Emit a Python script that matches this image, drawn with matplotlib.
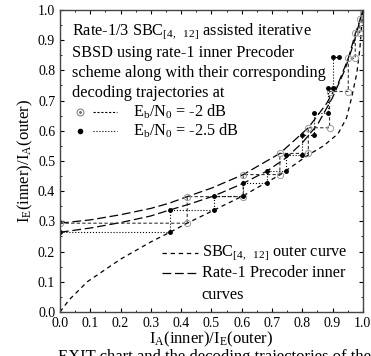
import matplotlib.pyplot as plt
import numpy as np

plt.rcParams['font.family'] = ['Liberation Serif', 'DejaVu Serif']
plt.rcParams['mathtext.fontset'] = 'custom'
plt.rcParams['mathtext.rm'] = 'Liberation Serif'
plt.rcParams['mathtext.it'] = 'Liberation Serif'

# curva externa SBC[4,12] (eixos trocados)
outer_x = [0, 0.03, 0.09, 0.2, 0.3, 0.363, 0.42, 0.51, 0.605, 0.726, 0.82, 0.87, 0.918, 0.946, 0.963, 0.98, 0.99, 1.0]
outer_y = [0, 0.04, 0.10, 0.175, 0.232, 0.264, 0.294, 0.338, 0.385, 0.454, 0.52, 0.55, 0.59, 0.642, 0.71, 0.79, 0.87, 1.0]

# curvas internas do precoder rate-1
inner2_x = [0, 0.1, 0.2, 0.3, 0.36, 0.42, 0.5, 0.605, 0.726, 0.82, 0.88, 0.92, 0.952, 0.975, 0.99, 1.0]
inner2_y = [0.294, 0.305, 0.322, 0.343, 0.36, 0.382, 0.41, 0.455, 0.525, 0.61, 0.69, 0.76, 0.84, 0.92, 0.965, 1.0]
inner25_x = [0, 0.1, 0.2, 0.3, 0.363, 0.43, 0.51, 0.605, 0.684, 0.746, 0.8, 0.85, 0.9, 0.94, 0.97, 1.0]
inner25_y = [0.264, 0.278, 0.296, 0.318, 0.338, 0.358, 0.385, 0.426, 0.467, 0.51, 0.56, 0.62, 0.71, 0.8, 0.89, 1.0]

# trajetorias de decodificacao
traj2_x = [0, 0.42, 0.42, 0.605, 0.605, 0.726, 0.726, 0.82, 0.82, 0.89, 0.89, 0.952, 0.952, 0.975, 0.975, 0.99, 0.99, 1.0]
traj2_y = [0.294, 0.294, 0.382, 0.382, 0.455, 0.455, 0.525, 0.525, 0.61, 0.61, 0.73, 0.73, 0.84, 0.84, 0.925, 0.925, 0.97, 0.99]
traj25_x = [0, 0.363, 0.363, 0.51, 0.51, 0.605, 0.605, 0.684, 0.684, 0.746, 0.746, 0.80, 0.80, 0.84, 0.84, 0.885, 0.885, 0.9, 0.9, 0.92]
traj25_y = [0.264, 0.264, 0.338, 0.338, 0.385, 0.385, 0.426, 0.426, 0.467, 0.467, 0.52, 0.52, 0.585, 0.585, 0.66, 0.66, 0.74, 0.74, 0.845, 0.845]

ticks = [0.0, 0.1, 0.2, 0.3, 0.4, 0.5, 0.6, 0.7, 0.8, 0.9, 1.0]

fig = plt.figure(figsize=(3.71, 3.56), dpi=100)
ax = fig.add_axes([0.1617, 0.1236, 0.8163, 0.8484])

ax.plot(outer_x, outer_y, color='black', lw=0.9, dashes=(3.5, 3))
ax.plot(inner2_x, inner2_y, color='black', lw=0.9, dashes=(7, 3))
ax.plot(inner25_x, inner25_y, color='black', lw=0.9, dashes=(7, 3))

ax.plot(traj2_x, traj2_y, color='#333333', lw=0.8, dashes=(3, 2))
ax.plot(traj2_x, traj2_y, linestyle='none', marker='o', ms=4.5, mfc='none', mec='#999999', mew=0.7)
ax.plot(traj25_x, traj25_y, color='black', lw=0.8, linestyle=':')
ax.plot(traj25_x, traj25_y, linestyle='none', marker='o', ms=2.5, color='black')

ax.set_xlim(0, 1)
ax.set_ylim(0, 1)
ax.set_xticks(ticks)
ax.set_yticks(ticks)
ax.set_xticks(np.arange(0.05, 1.0, 0.1), minor=True)
ax.set_yticks(np.arange(0.05, 1.0, 0.1), minor=True)
ax.tick_params(which='both', direction='in', top=True, right=True, labelsize=10)
ax.tick_params(which='major', length=3)
ax.tick_params(which='minor', length=1.5)
for s in ax.spines.values():
    s.set_color('#444444')
    s.set_linewidth(1.0)

ax.set_xlabel(r'I$_\mathrm{A}$(inner)/I$_\mathrm{E}$(outer)', fontsize=12, labelpad=0)
ax.set_ylabel(r'I$_\mathrm{E}$(inner)/I$_\mathrm{A}$(outer)', fontsize=12, labelpad=2)

# texto da legenda superior
tr = ax.transAxes
fs = 11.7
linhas = [r'Rate-1/3 SBC$_{[4,\ \ 12]}$ assisted iterative',
          'SBSD using rate-1 inner Precoder',
          'scheme along with their corresponding',
          'decoding trajectories at']
for yy, t in zip([0.928, 0.857, 0.79, 0.726], linhas):
    ax.text(0.039, yy, t, transform=tr, fontsize=fs, va='center', ha='left')

ax.plot([0.066], [0.663], transform=tr, marker='o', ms=5, mfc='none', mec='#777777', mew=0.7)
ax.plot([0.066], [0.663], transform=tr, marker='o', ms=1.2, color='#777777')
ax.plot([0.109, 0.188], [0.663, 0.663], transform=tr, color='black', lw=0.8, dashes=(2, 1.5))
ax.text(0.241, 0.663, r'E$_\mathrm{b}$/N$_\mathrm{0}$ = -2 dB', transform=tr, fontsize=fs, va='center')
ax.plot([0.066], [0.6], transform=tr, marker='o', ms=3, color='black')
ax.plot([0.109, 0.188], [0.6, 0.6], transform=tr, color='black', lw=0.8, linestyle=':')
ax.text(0.241, 0.6, r'E$_\mathrm{b}$/N$_\mathrm{0}$ = -2.5 dB', transform=tr, fontsize=fs, va='center')

# legenda inferior
ax.plot([0.336, 0.455], [0.194, 0.194], transform=tr, color='black', lw=0.9, dashes=(3.5, 3))
ax.text(0.468, 0.194, r'SBC$_{[4,\ \ 12]}$ outer curve', transform=tr, fontsize=fs, va='center')
ax.plot([0.336, 0.455], [0.128, 0.128], transform=tr, color='black', lw=0.9, dashes=(7, 3))
ax.text(0.468, 0.128, 'Rate-1 Precoder inner', transform=tr, fontsize=fs, va='center')
ax.text(0.468, 0.056, 'curves', transform=tr, fontsize=fs, va='center')

fig.text(0.157, 0.02, 'EXIT chart and the decoding trajectories of the', fontsize=12, va='top')

fig.savefig('out.png', dpi=100)
